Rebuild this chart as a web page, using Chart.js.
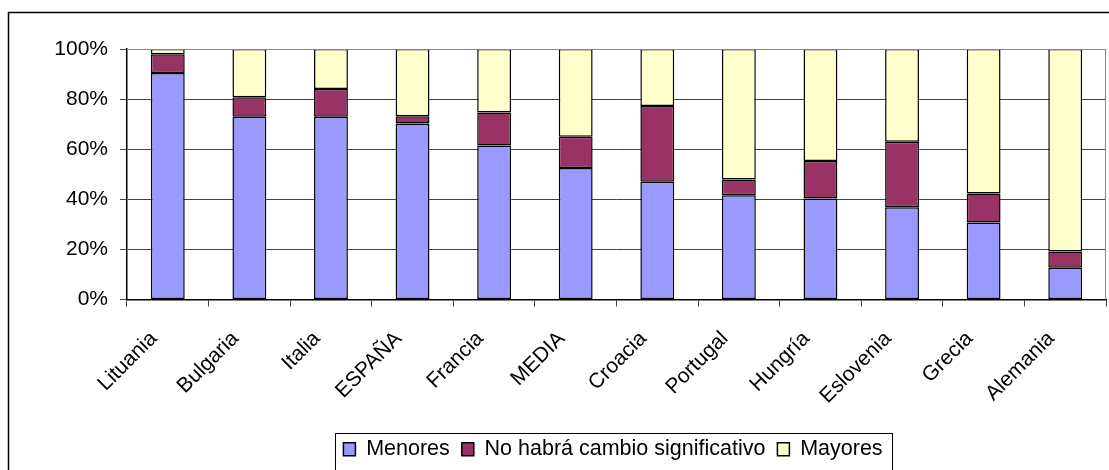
<!DOCTYPE html>
<html>
<head>
<meta charset="utf-8">
<script src="https://cdn.jsdelivr.net/npm/chart.js@4.4.1/dist/chart.umd.min.js"></script>
<style>
  html, body { margin: 0; padding: 0; background: #fff; }
  #wrap { width: 1109px; height: 470px; }
</style>
</head>
<body>
<div id="wrap"><canvas id="chart" width="1109" height="470"></canvas></div>
<script>
var categories = ['Lituania', 'Bulgaria', 'Italia', 'ESPAÑA', 'Francia', 'MEDIA', 'Croacia', 'Portugal', 'Hungría', 'Eslovenia', 'Grecia', 'Alemania'];
var menores = [90.4, 73, 73, 70.3, 61.5, 52.5, 47, 41.6, 40.3, 36.8, 30.7, 12.7];
var sinCambio = [7.5, 7.7, 11, 2.9, 13.2, 12.5, 30.2, 6.3, 15, 26.2, 11.6, 6.5];
var mayores = [2.1, 19.3, 16, 26.8, 25.3, 35, 22.8, 52.1, 44.7, 37, 57.7, 80.8];
var yTicks = [0, 20, 40, 60, 80, 100];

var seriesNames = ['Menores', 'No habrá cambio significativo', 'Mayores'];
var seriesColors = ['#9999FF', '#993366', '#FFFFCC'];

var font = "'Liberation Sans', Arial, sans-serif";

// outer frame, plot border and legend box
var framePlugin = {
  id: 'frame',
  afterLayout: function (chart) {
    // legend sits right of centre in the original
    chart.legend.left += 60;
    chart.legend.right += 60;
  },
  beforeDraw: function (chart) {
    var ctx = chart.ctx;
    ctx.save();
    ctx.strokeStyle = '#000';
    ctx.lineWidth = 1.5;
    ctx.beginPath();
    ctx.moveTo(8.5, chart.height);
    ctx.lineTo(8.5, 12.5);
    ctx.lineTo(chart.width, 12.5);
    ctx.stroke();
    ctx.restore();
  },
  afterDraw: function (chart) {
    var ctx = chart.ctx;
    var a = chart.chartArea;
    ctx.save();
    ctx.strokeStyle = '#888';
    ctx.lineWidth = 1;
    ctx.beginPath();
    ctx.moveTo(a.left, a.top + 0.5);
    ctx.lineTo(a.right - 0.5, a.top + 0.5);
    ctx.lineTo(a.right - 0.5, a.bottom);
    ctx.stroke();

    var boxes = chart.legend.legendHitBoxes;
    if (boxes && boxes.length) {
      var l = Math.min.apply(null, boxes.map(function (b) { return b.left; }));
      var r = Math.max.apply(null, boxes.map(function (b) { return b.left + b.width; }));
      var t = Math.min.apply(null, boxes.map(function (b) { return b.top; }));
      ctx.strokeStyle = '#000';
      ctx.lineWidth = 1;
      ctx.strokeRect(Math.round(l - 8) + 0.5, Math.round(t - 6) + 0.5, Math.round(r - l + 18), 60);
    }
    ctx.restore();
  }
};

var datasets = [menores, sinCambio, mayores].map(function (vals, i) {
  return {
    label: seriesNames[i],
    data: vals,
    backgroundColor: seriesColors[i],
    borderColor: '#000',
    borderWidth: 1.5,
    borderSkipped: false,
    barPercentage: 0.415,
    categoryPercentage: 1
  };
});

new Chart(document.getElementById('chart'), {
  type: 'bar',
  data: { labels: categories, datasets: datasets },
  plugins: [framePlugin],
  options: {
    responsive: false,
    animation: false,
    layout: { padding: { top: 49, right: 3, left: 0, bottom: 0 } },
    plugins: {
      title: { display: false },
      tooltip: { enabled: false },
      legend: {
        position: 'bottom',
        labels: {
          color: '#000',
          font: { family: font, size: 21.5 },
          boxWidth: 12,
          boxHeight: 13,
          padding: 12
        }
      }
    },
    scales: {
      x: {
        stacked: true,
        offset: true,
        afterFit: function (scale) { scale.height = 127; },
        grid: {
          offset: true,
          drawOnChartArea: false,
          drawTicks: true,
          tickLength: 7,
          color: '#444'
        },
        border: { color: '#000', width: 1.5 },
        ticks: {
          color: '#000',
          font: { family: font, size: 21 },
          minRotation: 45,
          maxRotation: 45,
          autoSkip: false,
          padding: 20,
          labelOffset: -14
        }
      },
      y: {
        stacked: true,
        min: 0,
        max: 100,
        afterFit: function (scale) { scale.width = 127; },
        afterBuildTicks: function (scale) {
          scale.ticks = yTicks.map(function (v) { return { value: v }; });
        },
        grid: {
          color: '#444',
          lineWidth: 1,
          drawTicks: true,
          tickLength: 7
        },
        border: { color: '#000', width: 1.5 },
        ticks: {
          color: '#000',
          font: { family: font, size: 21 },
          padding: 12,
          callback: function (v) { return v + '%'; }
        }
      }
    }
  }
});
</script>
</body>
</html>
